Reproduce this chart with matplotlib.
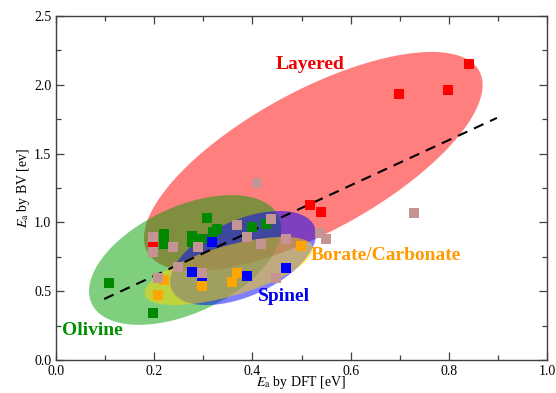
import numpy as np
import matplotlib
matplotlib.use("Agg")
import matplotlib.pyplot as plt
from matplotlib.ticker import MultipleLocator

plt.rcParams["font.family"] = ["Liberation Serif", "DejaVu Serif"]
plt.rcParams["mathtext.fontset"] = "stix"

# ---- data ----
layered_x = [0.198, 0.517, 0.539, 0.699, 0.799, 0.842]
layered_y = [0.836, 1.126, 1.078, 1.933, 1.962, 2.150]

olivine_x = [0.107, 0.198, 0.219, 0.219, 0.308, 0.277, 0.277, 0.297, 0.319, 0.328, 0.399, 0.428]
olivine_y = [0.557, 0.339, 0.913, 0.841, 1.030, 0.901, 0.860, 0.882, 0.933, 0.950, 0.969, 0.986]

spinel_x = [0.318, 0.277, 0.297, 0.388, 0.468]
spinel_y = [0.860, 0.642, 0.586, 0.610, 0.671]

borate_x = [0.219, 0.208, 0.297, 0.368, 0.358, 0.499]
borate_y = [0.581, 0.470, 0.538, 0.630, 0.569, 0.828]

other_x = [0.198, 0.198, 0.238, 0.249, 0.208, 0.289, 0.297, 0.368, 0.388, 0.409,
           0.438, 0.418, 0.468, 0.448, 0.538, 0.549, 0.729]
other_y = [0.891, 0.787, 0.819, 0.673, 0.598, 0.819, 0.635, 0.981, 0.896, 1.289,
           1.022, 0.843, 0.877, 0.598, 0.925, 0.879, 1.070]

# linear trend: y = slope * x + intercept over fit_x range
fit_slope, fit_intercept = 1.645, 0.282
fit_x = [0.098, 0.898]

# group ellipses: centre (x, y), semi-axes in x-units, screen angle in degrees
ELLIPSES = [
    # (cx, cy, a, b, angle, colour)
    (0.524, 1.443, 0.385, 0.143, 28.6, "#FF0000"),
    (0.263, 0.727, 0.210, 0.108, 25, "#00A000"),
    (0.381, 0.741, 0.159, 0.0774, 24, "#0000FF"),
    (0.352, 0.647, 0.178, 0.051, 16, "#FFD700"),
]

XLIM = (0.0, 1.0)
YLIM = (0.0, 2.5)
AX_RECT = [56 / 556, 33 / 393, 491 / 556, 344 / 393]


def ellipse_xy(cx, cy, a, b, ang, aspect):
    """Ellipse outline in data coords, shaped as it appears on screen."""
    t = np.linspace(0, 2 * np.pi, 300)
    th = np.radians(ang)
    ex = a * np.cos(t) * np.cos(th) - b * np.sin(t) * np.sin(th)
    ey = a * np.cos(t) * np.sin(th) + b * np.sin(t) * np.cos(th)
    return cx + ex, cy + ey * aspect


fig = plt.figure(figsize=(5.56, 3.93), dpi=100, facecolor="white")
ax = fig.add_axes(AX_RECT)

# y-units per x-unit for equal screen length
aspect = ((YLIM[1] - YLIM[0]) / AX_RECT[3] / 3.93) / ((XLIM[1] - XLIM[0]) / AX_RECT[2] / 5.56)

for cx, cy, a, b, ang, col in ELLIPSES:
    ex, ey = ellipse_xy(cx, cy, a, b, ang, aspect)
    ax.fill(ex, ey, color=col, alpha=0.5, linewidth=0, zorder=1)

fx = np.array(fit_x)
ax.plot(fx, fit_slope * fx + fit_intercept, color="black", linewidth=1.5,
        linestyle=(0, (5, 3.5)), zorder=2)

ms = 6.5
ax.plot(layered_x, layered_y, "s", color="#FF0000", ms=ms, mew=0, zorder=3)
ax.plot(olivine_x, olivine_y, "s", color="#008800", ms=ms, mew=0, zorder=3)
ax.plot(spinel_x, spinel_y, "s", color="#0000FF", ms=ms, mew=0, zorder=3)
ax.plot(borate_x, borate_y, "s", color="#FFA500", ms=ms, mew=0, zorder=3)
ax.plot(other_x, other_y, "s", color="#C49494", ms=ms, mew=0, zorder=3)

lab = dict(fontsize=14, fontweight="bold", ha="center", va="center")
ax.text(0.517, 2.144, "Layered", color="#EE0000", **lab)
ax.text(0.075, 0.213, "Olivine", color="#009000", **lab)
ax.text(0.465, 0.460, "Spinel", color="#0000EE", **lab)
ax.text(0.671, 0.756, "Borate/Carbonate", color="#FF9A00", **lab)

ax.set_xlim(*XLIM)
ax.set_ylim(*YLIM)
ax.xaxis.set_major_locator(MultipleLocator(0.2))
ax.xaxis.set_minor_locator(MultipleLocator(0.1))
ax.yaxis.set_major_locator(MultipleLocator(0.5))
ax.yaxis.set_minor_locator(MultipleLocator(0.25))
ax.tick_params(which="both", direction="in", top=True, right=True,
               color="#404040", labelsize=10)
ax.tick_params(which="major", length=6, width=0.9)
ax.tick_params(which="minor", length=3.5, width=0.9)
for sp in ax.spines.values():
    sp.set_color("#404040")
    sp.set_linewidth(1.0)

ax.set_xlabel(r"$E_\mathrm{a}$ by DFT [eV]", fontsize=10, labelpad=-3)
ax.set_ylabel(r"$E_\mathrm{a}$ by BV [ev]", fontsize=10, labelpad=1)

fig.savefig("out.png", dpi=100)
